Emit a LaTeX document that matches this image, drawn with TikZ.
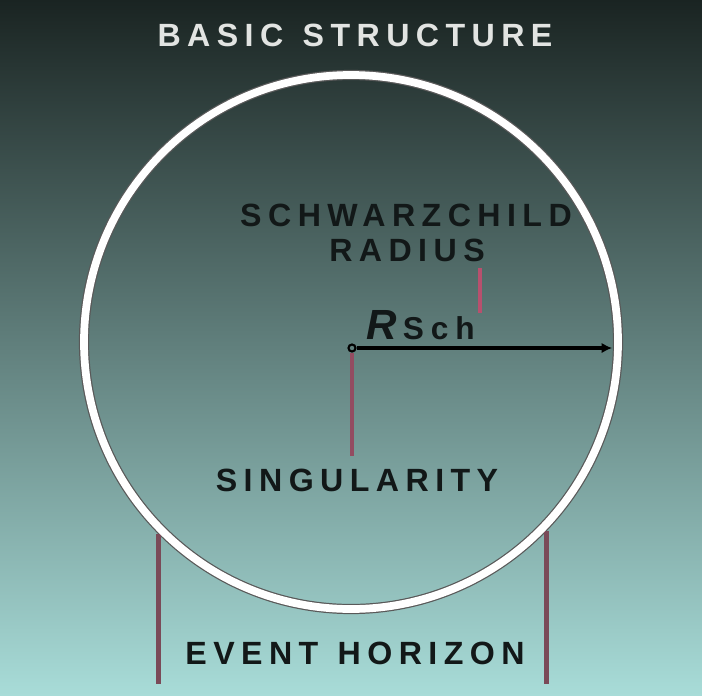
\documentclass[tikz,border=0pt]{standalone}
\usepackage{fontspec}
\setmainfont{Liberation Sans}
\newfontfamily\lblfont[LetterSpace=20]{Liberation Sans}
\newfontfamily\subfont[LetterSpace=22]{Liberation Sans}
\usepackage{tikz}
\usetikzlibrary{positioning, arrows.meta}

\definecolor{bgtop}{HTML}{1A2422}
\definecolor{bgbot}{HTML}{A8DCD8}
\definecolor{lbltext}{HTML}{121818}
\definecolor{titletext}{HTML}{E2E4E2}
\definecolor{leadpink}{HTML}{B8506E}
\definecolor{leadmauve}{HTML}{7A4A58}

\tikzset{
  lbl/.style={font=\lblfont\bfseries\fontsize{18.3}{20}\selectfont, text=lbltext, inner sep=0pt},
  lead/.style={draw=leadpink, line width=2pt},
  edge/.style={draw=leadmauve, line width=2.6pt}
}
\newcommand{\wgap}{\hspace{0.08cm}}

\begin{document}
\begin{tikzpicture}
\fill[top color=bgtop, bottom color=bgbot] (0,0) rectangle (14.04,13.9);
\useasboundingbox (0,0) rectangle (14.04,13.9);
\coordinate (base) at (0,0.22);
\node[lbl, text=titletext] (title) at (7.1,13.2) {BASIC \wgap STRUCTURE};
% event horizon
\node[circle, draw=gray!70!black, line width=5.8pt, minimum size=10.68cm, inner sep=0] (hor) at (7.02,7.06) {};
\draw[edge] (hor.-135.5) -- (hor.-135.5 |- base);
\draw[edge] (hor.-44) -- (hor.-44 |- base);
\node[circle, draw=white, line width=4.4pt, minimum size=10.68cm, inner sep=0] at (hor) {};
\node[lbl] (evh) at (7.1,0.84) {EVENT \wgap HORIZON};
% singularity and radius
\node[circle, draw=black, line width=1.2pt, minimum size=4pt, inner sep=0] (sing) at (7.04,6.94) {};
\draw[line width=2.2pt, -{Latex[length=6pt,width=6pt]}, shorten >=0.22cm] (sing) -- (sing -| hor.east);
\node[lbl] (singlbl) at (7.14,4.3) {SINGULARITY};
\draw[lead, draw=leadmauve!60!leadpink] (sing.south) -- ([yshift=0.24cm]sing |- singlbl.north);
\node[lbl] (schw) at (8.12,9.6) {SCHWARZCHILD};
\node[lbl] (radius) at (8.14,8.9) {RADIUS};
\coordinate (rtip) at (9.6,7.64);
\draw[lead] ([yshift=-0.13cm]radius.south -| rtip) -- (rtip);
\node[anchor=base west, inner sep=0, text=lbltext] (rsch) at (7.32,7.12)
  {\fontsize{24}{26}\selectfont\bfseries\itshape R\hspace{0.12cm}\subfont\upshape\fontsize{18}{20}\selectfont Sch};
\end{tikzpicture}
\end{document}
